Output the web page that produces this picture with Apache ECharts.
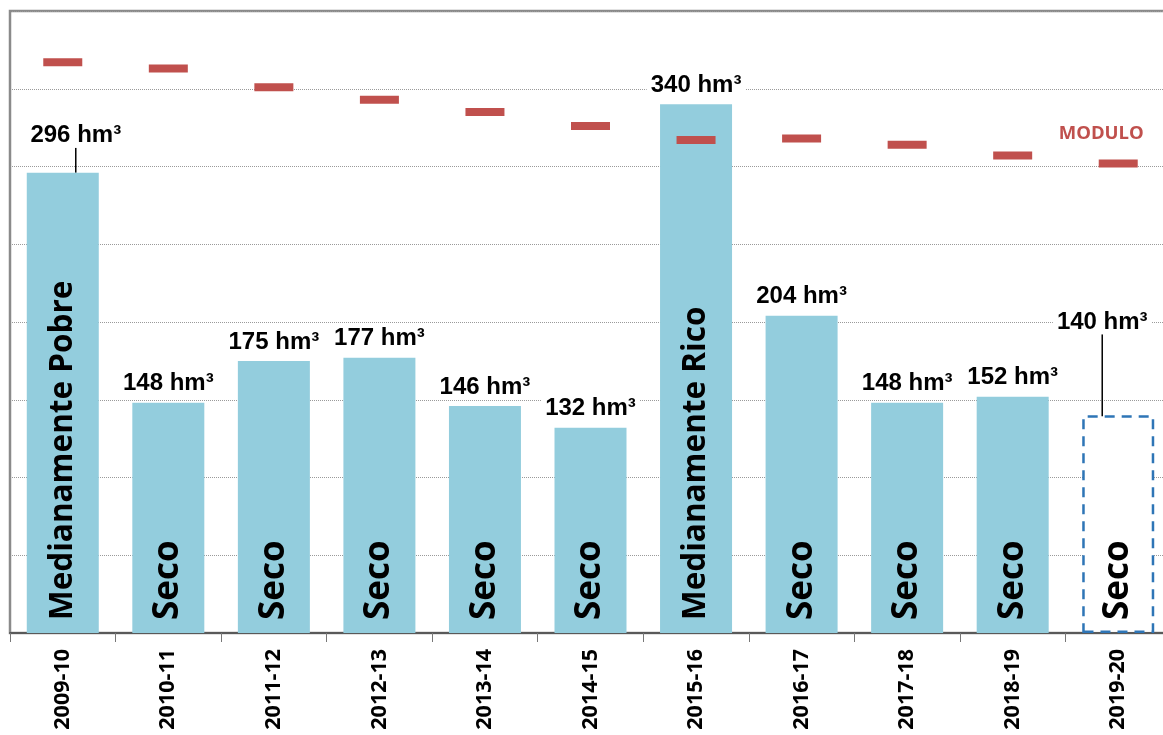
<!DOCTYPE html>
<html>
<head>
<meta charset="utf-8">
<script src="https://cdn.jsdelivr.net/npm/echarts@6/dist/echarts.min.js"></script>
<style>
  html, body { margin: 0; padding: 0; background: #fff; overflow: hidden; width: 1163px; height: 735px; }
  #chart { width: 1171px; height: 735px; }
</style>
</head>
<body>
<div id="chart"></div>
<script>
const categories = ['2009-10', '2010-11', '2011-12', '2012-13', '2013-14', '2014-15', '2015-16', '2016-17', '2017-18', '2018-19', '2019-20'];
const volumes = [296, 148, 175, 177, 146, 132, 340, 204, 148, 152, 140];
const classes = ['Medianamente Pobre', 'Seco', 'Seco', 'Seco', 'Seco', 'Seco', 'Medianamente Rico', 'Seco', 'Seco', 'Seco', 'Seco'];
const modulo = [367, 363, 351, 343, 335, 326, 317, 318, 314, 307, 302];
const yTicks = { min: 0, max: 400, interval: 50 };
const unit = ' hm³';
const moduloLabel = 'MODULO';

const last = categories.length - 1;
const BAR_COLOR = '#93CDDD';
const RED = '#C0504D';

const volumeData = volumes.map((v, i) => {
  const item = { value: v };
  if (i === last) {
    item.itemStyle = { color: '#ffffff', borderColor: '#2E75B6', borderWidth: 2.5, borderType: [10, 7] };
  }
  if (i === 0 || i === last) {
    item.labelLine = { show: true };
  }
  return item;
});

const classData = volumes.map((v, i) => ({
  value: v,
  label: { fontSize: classes[i].length > 6 ? 31.5 : 35 }
}));

const moduloData = modulo.map((v, i) => i === last
  ? { value: v, label: { show: true } }
  : v);

const chart = echarts.init(document.getElementById('chart'), null, { renderer: 'canvas' });
chart.setOption({
  animation: false,
  backgroundColor: '#ffffff',
  grid: { left: 10, right: 0, top: 11, bottom: 102, show: true, borderColor: '#8a8a8a', borderWidth: 2.5, backgroundColor: 'transparent' },
  xAxis: {
    type: 'category',
    data: categories,
    axisLine: { show: true, lineStyle: { color: '#595959', width: 2 } },
    axisTick: { show: true, length: 9, lineStyle: { color: '#777', width: 1 } },
    axisLabel: { rotate: 90, margin: 16, color: '#000', fontFamily: 'Open Sans', fontWeight: 'bold', fontSize: 21.5 },
    splitLine: { show: false }
  },
  yAxis: {
    type: 'value',
    min: yTicks.min, max: yTicks.max, interval: yTicks.interval,
    axisLine: { show: true, lineStyle: { color: '#8a8a8a', width: 2 } },
    axisTick: { show: false },
    axisLabel: { show: false },
    splitLine: { show: true, lineStyle: { color: '#9a9a9a', type: 'dotted', width: 1 } }
  },
  series: [
    {
      name: 'Volumen',
      type: 'bar',
      data: volumeData,
      barWidth: 72,
      barGap: '-100%',
      itemStyle: { color: BAR_COLOR },
      z: 2,
      label: {
        show: true,
        position: 'top',
        distance: 7,
        formatter: (p) => p.value + unit,
        color: '#000',
        fontFamily: 'Liberation Sans',
        fontWeight: 'bold',
        fontSize: 24,
        backgroundColor: '#ffffff',
        padding: [0, 4]
      },
      labelLine: { show: false, lineStyle: { color: '#000', width: 1.5 } },
      labelLayout: (params) => {
        if (params.dataIndex === 0) return { dx: 13, dy: -18 };
        if (params.dataIndex === last) return { dx: -16, dy: -74 };
        return {};
      }
    },
    {
      name: 'Clase',
      type: 'bar',
      data: classData,
      barWidth: 72,
      barGap: '-100%',
      itemStyle: { color: 'rgba(0,0,0,0)' },
      z: 3,
      silent: true,
      label: {
        show: true,
        position: 'insideBottom',
        rotate: 90,
        align: 'left',
        verticalAlign: 'middle',
        distance: 13,
        formatter: (p) => classes[p.dataIndex],
        color: '#000',
        fontFamily: 'Open Sans',
        fontWeight: 'bold',
        fontSize: 35
      }
    },
    {
      name: 'Modulo',
      type: 'scatter',
      data: moduloData,
      symbol: 'rect',
      symbolSize: [39, 8],
      itemStyle: { color: RED, opacity: 1 },
      z: 5,
      label: {
        show: false,
        position: 'top',
        offset: [-17, -11],
        formatter: moduloLabel,
        color: RED,
        opacity: 1,
        fontFamily: 'Open Sans',
        fontWeight: 'bold',
        fontSize: 18.5
      }
    }
  ]
});
</script>
</body>
</html>
